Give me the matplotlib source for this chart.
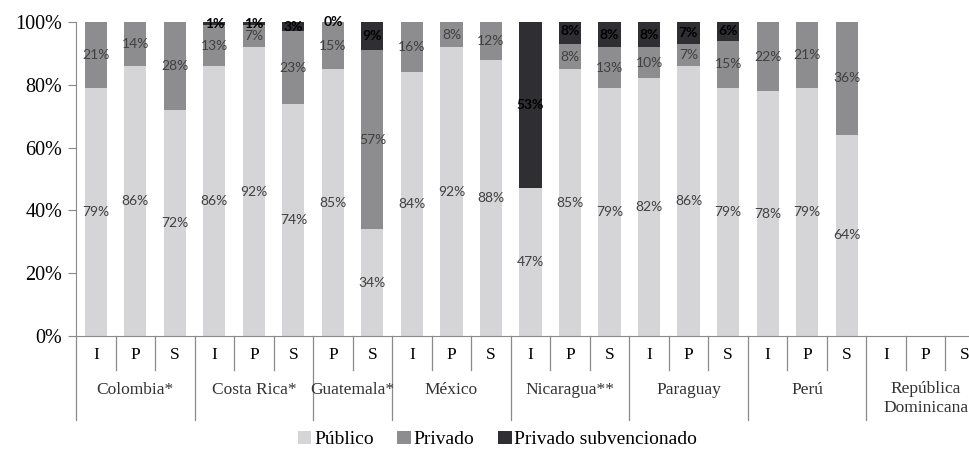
import matplotlib
matplotlib.use("Agg")
import matplotlib.pyplot as plt
import matplotlib.transforms as mtransforms
import numpy as np

# groups and the levels shown inside each one
groups = ["Colombia*", "Costa Rica*", "Guatemala*", "México", "Nicaragua**",
          "Paraguay", "Perú", "República\nDominicana"]
levels = [["I", "P", "S"], ["I", "P", "S"], ["P", "S"], ["I", "P", "S"],
          ["I", "P", "S"], ["I", "P", "S"], ["I", "P", "S"], ["I", "P", "S"]]

# shares (%) per bar, in the order above; None = no value shown
publico = [79, 86, 72, 86, 92, 74, 85, 34, 84, 92, 88, 47, 85, 79, 82, 86, 79,
           78, 79, 64, None, None, None]
privado = [21, 14, 28, 13, 7, 23, 15, 57, 16, 8, 12, None, 8, 13, 10, 7, 15,
           22, 21, 36, None, None, None]
subvencionado = [None, None, None, 1, 1, 3, 0, 9, None, None, None, 53, 8, 8, 8,
                 7, 6, None, None, None, None, None, None]

C_PUB = "#d5d5d7"
C_PRIV = "#8d8d8f"
C_SUB = "#2f2f33"
AXIS_C = "#8a8a8a"
SERIF = "Liberation Serif"

fig = plt.figure(figsize=(9.7, 4.54), dpi=100)
ax = fig.add_axes([0.0784, 0.26, 0.937, 0.6916])

n = len(publico)
x = np.arange(n)
pub = np.array([v if v is not None else 0 for v in publico], float)
pri = np.array([v if v is not None else 0 for v in privado], float)
sub = np.array([v if v is not None else 0 for v in subvencionado], float)

w = 0.56
ax.bar(x, pub, w, color=C_PUB, label="Público")
ax.bar(x, pri, w, bottom=pub, color=C_PRIV, label="Privado")
ax.bar(x, sub, w, bottom=pub + pri, color=C_SUB, label="Privado subvencionado")

# data labels, centred in each segment
for i in range(n):
    if publico[i] is not None:
        ax.text(x[i], pub[i] / 2, f"{publico[i]}%", ha="center", va="center",
                fontsize=10, color="#404040", family="Lato")
    if privado[i] is not None:
        ax.text(x[i], pub[i] + pri[i] / 2, f"{privado[i]}%", ha="center",
                va="center", fontsize=10, color="#404040", family="Lato")
    if subvencionado[i] is not None:
        ax.text(x[i], pub[i] + pri[i] + sub[i] / 2, f"{subvencionado[i]}%",
                ha="center", va="center", fontsize=10, color="black",
                family="Lato", fontweight="bold")

ax.set_xlim(-0.5, n - 0.5)
ax.set_ylim(0, 100)
ax.set_yticks(np.arange(0, 101, 20))
ax.set_yticklabels([f"{v}%" for v in range(0, 101, 20)], family=SERIF, fontsize=14.5)
ax.tick_params(axis="y", direction="out", length=6, color=AXIS_C, pad=4)

cat_labels = [lv for g in levels for lv in g]
ax.set_xticks(x)
ax.set_xticklabels(cat_labels, family=SERIF, fontsize=12.5)
ax.tick_params(axis="x", length=0, pad=8)

for s in ["top", "right"]:
    ax.spines[s].set_visible(False)
for s in ["left", "bottom"]:
    ax.spines[s].set_color(AXIS_C)

# category axis separators and group names below the plot
trans = mtransforms.blended_transform_factory(ax.transData, ax.transAxes)
pos = 0
bounds = [-0.5]
for g, lv in zip(groups, levels):
    start = pos
    pos += len(lv)
    for k in range(start + 1, pos):
        ax.plot([k - 0.5, k - 0.5], [0, -0.108], transform=trans, color=AXIS_C,
                lw=0.9, clip_on=False)
    bounds.append(pos - 0.5)
    multi = "\n" in g
    ax.text((start + pos - 1) / 2, -0.145 if multi else -0.172, g,
            transform=trans, ha="center", va="top" if multi else "center",
            family=SERIF, fontsize=12.5, color="#333333", linespacing=1.25)
for b in bounds:
    ax.plot([b, b], [0, -0.268], transform=trans, color=AXIS_C, lw=0.9,
            clip_on=False)

leg = fig.legend(loc="center", bbox_to_anchor=(0.513, 0.032), ncol=3,
                 frameon=False, handlelength=0.7, handleheight=0.7,
                 handletextpad=0.15, columnspacing=1.2,
                 prop={"family": SERIF, "size": 14})

fig.savefig("out.png", dpi=100)
